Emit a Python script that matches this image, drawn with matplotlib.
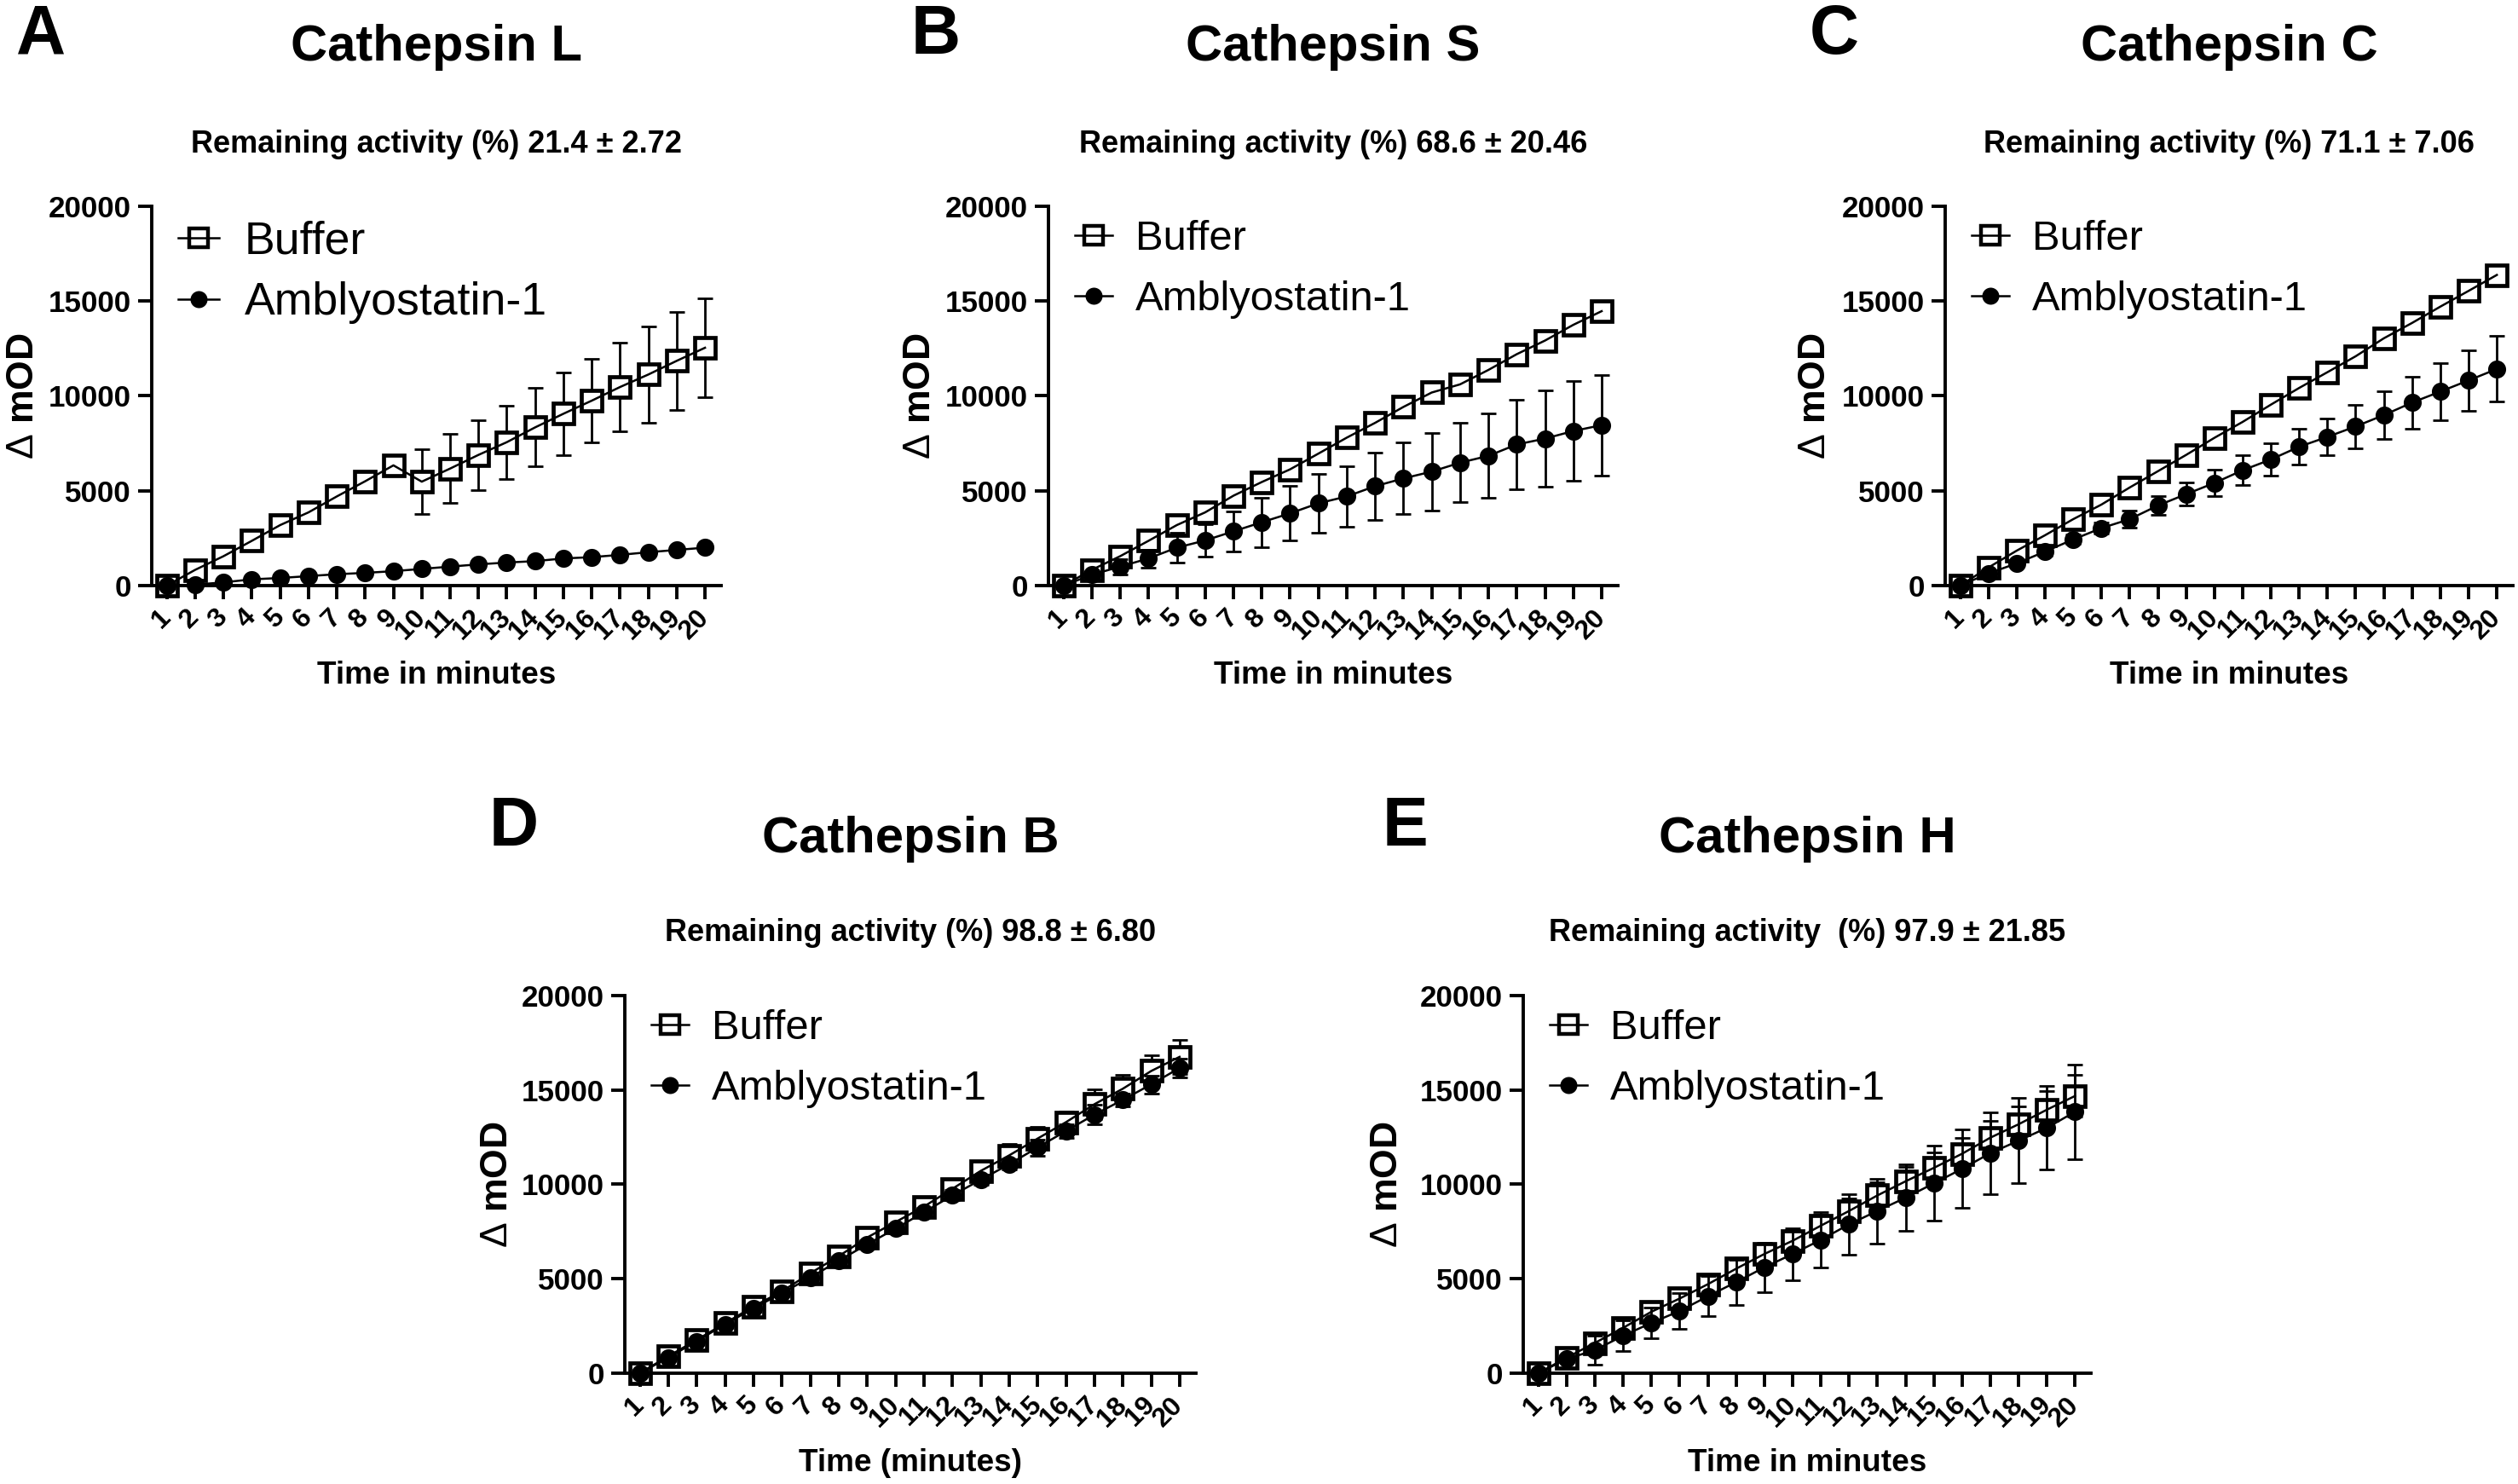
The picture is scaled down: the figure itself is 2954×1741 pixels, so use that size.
import matplotlib
matplotlib.use("Agg")
import matplotlib.pyplot as plt
from matplotlib.lines import Line2D
from matplotlib.legend_handler import HandlerTuple

plt.rcParams['font.family'] = ['Liberation Sans', 'DejaVu Sans']
plt.rcParams['mathtext.fontset'] = 'custom'
plt.rcParams['mathtext.rm'] = 'Liberation Sans'
plt.rcParams['mathtext.it'] = 'Liberation Sans:italic'
plt.rcParams['mathtext.bf'] = 'Liberation Sans:bold'

minutes = list(range(1, 21))
series_labels = ["Buffer", "Amblyostatin-1"]
yticks = [0, 5000, 10000, 15000, 20000]

# Panel A - Cathepsin L
A_buf = [0, 830, 1550, 2360, 3190, 3860, 4700, 5500, 6340, 5480, 6170, 6890, 7560, 8340, 9060, 9750, 10470, 11130, 11850, 12540]
A_buf_err = [0, 100, 150, 200, 250, 300, 350, 400, 450, 1690, 1820, 1850, 1930, 2070, 2190, 2220, 2330, 2550, 2570, 2620]
A_amb = [0, 50, 170, 330, 400, 500, 600, 670, 760, 880, 1000, 1120, 1215, 1290, 1430, 1500, 1620, 1760, 1880, 2000]
A_amb_err = [0, 20, 30, 40, 50, 60, 60, 70, 70, 80, 80, 90, 90, 100, 100, 110, 110, 120, 120, 130]

# Panel B - Cathepsin S
B_buf = [0, 830, 1550, 2360, 3190, 3860, 4740, 5460, 6130, 6960, 7800, 8580, 9420, 10180, 10610, 11370, 12200, 12920, 13750, 14470]
B_buf_err = [0, 80, 100, 120, 150, 170, 190, 200, 220, 240, 250, 260, 270, 280, 290, 300, 310, 320, 330, 350]
B_amb = [0, 570, 1000, 1430, 2000, 2380, 2860, 3340, 3810, 4340, 4700, 5240, 5650, 6010, 6480, 6840, 7440, 7750, 8150, 8460]
B_amb_err = [0, 150, 400, 480, 780, 860, 1040, 1310, 1430, 1550, 1610, 1790, 1890, 2050, 2090, 2230, 2340, 2530, 2620, 2660]

# Panel C - Cathepsin C
C_buf = [0, 950, 1840, 2650, 3500, 4270, 5170, 6030, 6890, 7790, 8630, 9540, 10420, 11250, 12090, 13040, 13850, 14710, 15540, 16380]
C_buf_err = [0, 60, 80, 100, 120, 130, 140, 150, 160, 170, 180, 190, 200, 210, 220, 230, 240, 250, 260, 270]
C_amb = [0, 640, 1170, 1790, 2430, 3030, 3500, 4220, 4820, 5410, 6080, 6650, 7320, 7840, 8390, 8990, 9650, 10230, 10820, 11420]
C_amb_err = [0, 100, 150, 200, 250, 300, 450, 500, 600, 680, 775, 870, 950, 950, 1140, 1260, 1370, 1490, 1585, 1730]

# Panel D - Cathepsin B
D_buf = [0, 890, 1760, 2640, 3530, 4330, 5290, 6190, 7180, 8000, 8820, 9760, 10710, 11530, 12420, 13290, 14240, 15060, 16000, 16750]
D_buf_err = [0, 120, 150, 200, 220, 250, 280, 300, 330, 350, 380, 480, 470, 590, 640, 550, 770, 750, 820, 900]
D_amb = [0, 820, 1690, 2590, 3430, 4240, 5060, 5950, 6820, 7650, 8520, 9410, 10240, 11060, 11950, 12820, 13690, 14470, 15290, 16160]
D_amb_err = [0, 100, 120, 150, 160, 180, 200, 210, 220, 240, 250, 270, 260, 280, 420, 350, 510, 350, 470, 510]

# Panel E - Cathepsin H
E_buf = [0, 820, 1600, 2400, 3250, 3950, 4710, 5530, 6310, 7010, 7810, 8590, 9410, 10160, 10870, 11620, 12470, 13180, 13950, 14680]
E_buf_err = [0, 100, 150, 200, 250, 300, 400, 450, 500, 550, 600, 650, 700, 750, 800, 850, 900, 950, 1000, 1100]
E_amb = [0, 750, 1220, 1980, 2660, 3290, 4070, 4820, 5600, 6310, 7060, 7880, 8590, 9290, 10050, 10820, 11650, 12310, 12990, 13840]
E_amb_err = [0, 150, 750, 800, 820, 940, 1060, 1200, 1320, 1370, 1460, 1600, 1720, 1760, 1980, 2070, 2170, 2260, 2210, 2500]

W, H = 2954, 1741
DPI = 200
fig = plt.figure(figsize=(W / DPI, H / DPI), dpi=DPI)

panels = [
    dict(rect=[0.0603, 0.6054, 0.2261, 0.2556], letter="A", lxy=(0.0163, 0.976),
         title="Cathepsin L", sub="Remaining activity (%) 21.4 \u00b1 2.72",
         xlabel="Time in minutes", xly=0.545, ylx=0.0092,
         data=(A_buf, A_buf_err, A_amb, A_amb_err), lfs=19.3, row1=0.906, ty=0.968, sy=0.9025),
    dict(rect=[0.4164, 0.6054, 0.2261, 0.2556], letter="B", lxy=(0.3717, 0.976),
         title="Cathepsin S", sub="Remaining activity (%) 68.6 \u00b1 20.46",
         xlabel="Time in minutes", xly=0.545, ylx=0.3656,
         data=(B_buf, B_buf_err, B_amb, B_amb_err), lfs=17.6, row1=0.912, ty=0.968, sy=0.9025),
    dict(rect=[0.7725, 0.6054, 0.2255, 0.2556], letter="C", lxy=(0.7285, 0.976),
         title="Cathepsin C", sub="Remaining activity (%) 71.1 \u00b1 7.06",
         xlabel="Time in minutes", xly=0.545, ylx=0.721,
         data=(C_buf, C_buf_err, C_amb, C_amb_err), lfs=17.6, row1=0.912, ty=0.968, sy=0.9025),
    dict(rect=[0.2481, 0.0747, 0.2268, 0.2545], letter="D", lxy=(0.204, 0.442),
         title="Cathepsin B", sub="Remaining activity (%) 98.8 \u00b1 6.80",
         xlabel="Time (minutes)", xly=0.014, ylx=0.1975,
         data=(D_buf, D_buf_err, D_amb, D_amb_err), lfs=17.6, row1=0.912, ty=0.4345, sy=0.3716),
    dict(rect=[0.6050, 0.0747, 0.2255, 0.2545], letter="E", lxy=(0.558, 0.442),
         title="Cathepsin H", sub="Remaining activity  (%) 97.9 \u00b1 21.85",
         xlabel="Time in minutes", xly=0.014, ylx=0.551,
         data=(E_buf, E_buf_err, E_amb, E_amb_err), lfs=17.6, row1=0.912, ty=0.4345, sy=0.3716),
]

sq_kw = dict(marker='s', ms=8.6, mfc='white', mec='black', mew=1.7, linestyle='none')
ci_kw = dict(marker='o', ms=7.6, mfc='black', mec='black', mew=0, linestyle='none')
sq_leg = dict(marker='s', ms=8.0, mfc='white', mec='black', mew=1.6, linestyle='none')
ci_leg = dict(marker='o', ms=7.2, mfc='black', mec='black', mew=0, linestyle='none')
ROW_SPACING_PX = 73.0
LINE_W = 0.9

for p in panels:
    ax = fig.add_axes(p["rect"])
    buf, buf_err, amb, amb_err = p["data"]
    ax.errorbar(minutes, buf, yerr=buf_err, fmt='none', ecolor='black', elinewidth=1.0,
                capsize=3.4, capthick=1.0, zorder=2, clip_on=False)
    ax.plot(minutes, buf, color='black', zorder=3, clip_on=False, **sq_kw)
    ax.plot(minutes, buf, color='black', lw=LINE_W, zorder=3.5, clip_on=False)
    ax.errorbar(minutes, amb, yerr=amb_err, fmt='none', ecolor='black', elinewidth=1.0,
                capsize=3.4, capthick=1.0, zorder=4, clip_on=False)
    ax.plot(minutes, amb, color='black', zorder=5, clip_on=False, **ci_kw)
    ax.plot(minutes, amb, color='black', lw=LINE_W, zorder=5.5, clip_on=False)

    ax.set_xlim(0.47, 20.57)
    ax.set_ylim(0, 20000)
    ax.spines[['top', 'right']].set_visible(False)
    for s in ['left', 'bottom']:
        ax.spines[s].set_linewidth(1.4)
    ax.set_yticks(yticks)
    ax.set_yticklabels([str(v) for v in yticks], fontsize=12.6, fontweight='bold')
    ax.set_xticks(minutes)
    ax.set_xticklabels([str(m) for m in minutes], fontsize=11.5, fontweight='bold',
                       rotation=45, ha='right', va='center', rotation_mode='anchor')
    ax.tick_params(axis='both', width=1.4, length=5.8, color='black')
    ax.tick_params(axis='y', pad=2.9)
    ax.tick_params(axis='x', pad=6)

    l, b, w, h = p["rect"]
    ax_h_px = h * H
    ax_w_px = w * W
    fs_px = p["lfs"] * DPI / 72.0
    row_h = 0.95 * fs_px
    lab_sp = (ROW_SPACING_PX - row_h) / fs_px
    top_frac = (p["row1"] * ax_h_px + row_h / 2) / ax_h_px
    x_frac = 31.0 / ax_w_px

    h_buf = (Line2D([], [], color='black', **sq_leg), Line2D([], [], color='black', lw=LINE_W))
    h_amb = (Line2D([], [], color='black', lw=LINE_W), Line2D([], [], color='black', **ci_leg))
    ax.legend([h_buf, h_amb], series_labels, handler_map={tuple: HandlerTuple(ndivide=1)},
              loc='upper left', bbox_to_anchor=(x_frac, top_frac), frameon=False,
              fontsize=p["lfs"], handlelength=0.9, handletextpad=0.55,
              labelspacing=lab_sp, borderaxespad=0, borderpad=0)

    cx = l + w / 2
    fig.text(cx, p["ty"], p["title"], ha='center', va='center', fontsize=21.5, fontweight='bold')
    fig.text(cx, p["sy"], p["sub"], ha='center', va='center', fontsize=13, fontweight='bold')
    fig.text(p["lxy"][0], p["lxy"][1], p["letter"], ha='center', va='center', fontsize=29, fontweight='bold')
    fig.text(cx, p["xly"], p["xlabel"], ha='center', va='center', fontsize=13.3, fontweight='bold')
    fig.text(p["ylx"], b + h / 2, r"$\Delta$ mOD", ha='center', va='center', rotation=90,
             fontsize=16, fontweight='bold')

fig.savefig("out.png", dpi=DPI, facecolor='white')
